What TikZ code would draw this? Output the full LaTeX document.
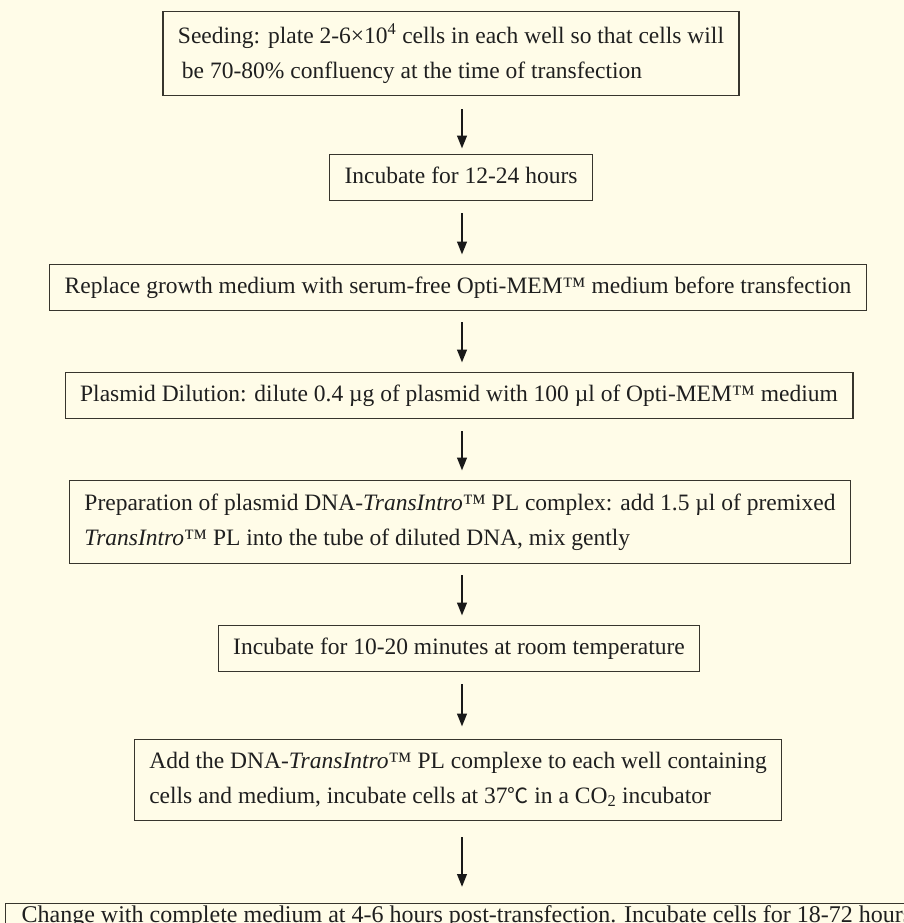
\documentclass[tikz,border=0pt]{standalone}
\usepackage{fontspec}
\setmainfont{Liberation Serif}
\newfontfamily\cjkf{Noto Sans CJK SC}
\usetikzlibrary{arrows.meta}
\definecolor{bg}{RGB}{255,252,232}
\definecolor{edge}{RGB}{55,53,45}
\newcommand\tp{\rule{0pt}{17pt}}
\newcommand\bt{\rule[-5.5pt]{0pt}{5.5pt}}
\begin{document}
\begin{tikzpicture}[x=1pt,y=-1pt,
  stepbox/.style={draw=edge, line width=1.3pt, inner xsep=15pt, inner ysep=12pt,
    font=\fontsize{23.5}{35}\selectfont, align=left, text=black!88},
  arr/.style={-{Triangle[length=13pt,width=9.5pt]}, line width=2.4pt, draw=black!90,
    shorten <=12pt, shorten >=9pt}]
\fill[bg] (0,0) rectangle (904,923);
\useasboundingbox (0,0) rectangle (904,923);
\clip (0,0) rectangle (904,923);
\coordinate (ax) at (462,0);

\node[stepbox] (b1) at (451,53.5) {\tp Seeding: plate 2-6×10\textsuperscript{4} cells in each well so that cells will\\\hspace*{4pt}be 70-80\% confluency at the time of transfection\bt};
\node[stepbox] (b2) at (461,177.5) {\tp Incubate for 12-24 hours\bt};
\node[stepbox] (b3) at (458,287.5) {\tp Replace growth medium with serum-free Opti-MEM™ medium before transfection\bt};
\node[stepbox] (b4) at (459,395.5) {\tp Plasmid Dilution: dilute 0.4 µg of plasmid with 100 µl of Opti-MEM™ medium\bt};
\node[stepbox, inner ysep=13pt] (b5) at (460,522) {\tp Preparation of plasmid DNA-\textit{TransIntro}™ PL complex: add 1.5 µl of premixed\\\textit{TransIntro}™ PL into the tube of diluted DNA, mix gently\bt};
\node[stepbox] (b6) at (459,648.5) {\tp Incubate for 10-20 minutes at room temperature\bt};
\node[stepbox] (b7) at (458,780) {\tp Add the DNA-\textit{TransIntro}™ PL complexe to each well containing\\cells and medium, incubate cells at 37{\cjkf\fontsize{21}{21}\selectfont ℃} in a CO\textsubscript{2} incubator\bt};
\node[stepbox, inner ysep=2pt, inner xsep=16pt, anchor=north west, font=\fontsize{24}{35}\selectfont] (b8) at (5,903) {\tp Change with complete medium at 4-6 hours post-transfection. Incubate cells for 18-72 hours\bt};

\draw[arr, shorten <=13pt, shorten >=5pt] (b1.south -| ax) -- (b2.north -| ax);
\draw[arr, shorten >=9pt] (b2.south -| ax) -- (b3.north -| ax);
\draw[arr, shorten <=11pt] (b3.south -| ax) -- (b4.north -| ax);
\draw[arr] (b4.south -| ax) -- (b5.north -| ax);
\draw[arr, shorten <=11pt] (b5.south -| ax) -- (b6.north -| ax);
\draw[arr, shorten >=12pt] (b6.south -| ax) -- (b7.north -| ax);
\draw[arr, shorten <=16pt, shorten >=16pt] (b7.south -| ax) -- (b8.north -| ax);
\end{tikzpicture}
\end{document}
